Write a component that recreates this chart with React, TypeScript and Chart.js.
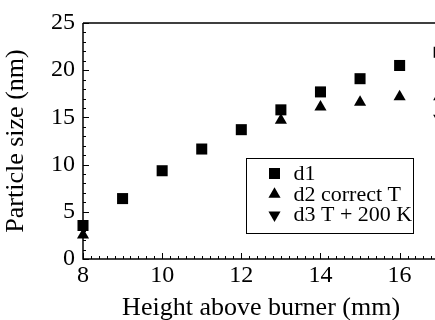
import React, { useEffect, useRef } from "react";
import { Chart, registerables } from "chart.js";

Chart.register(...registerables);

const heights = [8, 9, 10, 11, 12, 13, 14, 15, 16, 17];
const d1 = [3.55, 6.4, 9.35, 11.65, 13.7, 15.8, 17.7, 19.1, 20.5, 21.9];
const d2 = [2.55, null, null, null, null, 14.7, 16.1, 16.6, 17.2, 17.2];
const d3 = [null, null, null, null, null, null, null, null, null, 14.9];
const seriesLabels = ["d1", "d2 correct T", "d3 T + 200 K"];
const xTicks = [8, 10, 12, 14, 16];
const yTicks = [0, 5, 10, 15, 20, 25];

const X_MIN = 8;
const X_MAX = 17;
const Y_MIN = 0;
const Y_MAX = 25;
const FONT = "'Liberation Serif', 'Times New Roman', serif";

type Marker = "square" | "up" | "down";
const markers: Marker[] = ["square", "up", "down"];

function drawMarker(ctx: CanvasRenderingContext2D, kind: Marker, x: number, y: number) {
  ctx.beginPath();
  if (kind === "square") {
    const s = 5.5;
    ctx.rect(x - s, y - s, 2 * s, 2 * s);
  } else {
    const r = 7;
    const dir = kind === "up" ? 1 : -1;
    const w = r * Math.sqrt(3) / 2;
    ctx.moveTo(x, y - dir * r);
    ctx.lineTo(x + w, y + dir * r / 2);
    ctx.lineTo(x - w, y + dir * r / 2);
    ctx.closePath();
  }
  ctx.fill();
}

const frameAndTicks = {
  id: "frameAndTicks",
  beforeDatasetsDraw(chart: any) {
    const { ctx, chartArea: a, scales } = chart;
    const x = scales.x;
    const y = scales.y;
    ctx.save();
    ctx.strokeStyle = "#000";
    ctx.lineWidth = 1;
    ctx.beginPath();
    for (let i = 0; ; i++) {
      const v = X_MIN + i * 0.2;
      if (v > X_MAX + 1e-9) break;
      const px = Math.round(x.getPixelForValue(v)) + 0.5;
      const major = Math.abs(v / 2 - Math.round(v / 2)) < 1e-6;
      const len = major ? 6 : 3;
      ctx.moveTo(px, a.bottom);
      ctx.lineTo(px, a.bottom - len);
    }
    for (let v = Y_MIN; v <= Y_MAX; v += 1) {
      const py = Math.round(y.getPixelForValue(v)) + 0.5;
      const len = v % 5 === 0 ? 6 : 3;
      ctx.moveTo(a.left, py);
      ctx.lineTo(a.left + len, py);
    }
    ctx.stroke();
    ctx.lineWidth = 1.5;
    ctx.beginPath();
    ctx.moveTo(a.left, a.top);
    ctx.lineTo(a.right, a.top);
    ctx.moveTo(a.left, a.top);
    ctx.lineTo(a.left, a.bottom);
    ctx.lineTo(a.right, a.bottom);
    ctx.stroke();
    ctx.restore();
  },
};

const boxLegend = {
  id: "boxLegend",
  afterDraw(chart: any) {
    const { ctx } = chart;
    const left = 246.5;
    const top = 158.5;
    const w = 167;
    const h = 75;
    ctx.save();
    ctx.fillStyle = "#fff";
    ctx.fillRect(left, top, w, h);
    ctx.strokeStyle = "#000";
    ctx.lineWidth = 1;
    ctx.strokeRect(left, top, w, h);
    ctx.fillStyle = "#000";
    ctx.font = `22px ${FONT}`;
    ctx.textBaseline = "middle";
    ctx.textAlign = "left";
    chart.data.datasets.forEach((ds: any, i: number) => {
      const cy = top + 15 + i * 20.8;
      drawMarker(ctx, markers[i], left + 28, cy);
      ctx.fillText(ds.label, left + 47, cy + 0.5);
    });
    ctx.restore();
  },
};

export default function App() {
  const ref = useRef<HTMLCanvasElement | null>(null);
  useEffect(() => {
    if (!ref.current) return;
    const mk = (data: (number | null)[]) =>
      heights.map((h, i) => ({ x: h, y: data[i] })).filter((p) => p.y !== null);
    const chart = new Chart(ref.current, {
      type: "scatter",
      data: {
        datasets: [
          {
            label: seriesLabels[0],
            data: mk(d1) as any,
            pointStyle: "rect",
            pointRadius: 7.8,
            pointBorderWidth: 0,
            backgroundColor: "#000",
            borderColor: "#000",
            clip: false as any,
          },
          {
            label: seriesLabels[1],
            data: mk(d2) as any,
            pointStyle: "triangle",
            pointRadius: 7,
            pointBorderWidth: 0,
            backgroundColor: "#000",
            borderColor: "#000",
            clip: false as any,
          },
          {
            label: seriesLabels[2],
            data: mk(d3) as any,
            pointStyle: "triangle",
            pointRotation: 180,
            pointRadius: 7,
            pointBorderWidth: 0,
            backgroundColor: "#000",
            borderColor: "#000",
            clip: false as any,
          },
        ],
      },
      options: {
        responsive: false,
        animation: false,
        events: [],
        layout: { padding: { top: 23, left: 0, right: 0, bottom: 0 } },
        plugins: { legend: { display: false }, tooltip: { enabled: false } },
        scales: {
          x: {
            type: "linear",
            min: X_MIN,
            max: X_MAX,
            grid: { display: false, drawTicks: false },
            border: { display: false },
            afterBuildTicks: (s: any) => {
              s.ticks = xTicks.map((v) => ({ value: v }));
            },
            afterFit: (s: any) => {
              s.height = 61;
            },
            ticks: {
              stepSize: 2,
              padding: 2,
              color: "#000",
              font: { family: FONT, size: 24 },
              maxRotation: 0,
            },
            title: {
              display: true,
              text: "Height above burner (mm)",
              color: "#000",
              font: { family: FONT, size: 26, lineHeight: 0.88 },
              padding: { top: 0, bottom: 0 },
            },
          },
          y: {
            type: "linear",
            min: Y_MIN,
            max: Y_MAX,
            grid: { display: false, drawTicks: false },
            border: { display: false },
            afterBuildTicks: (s: any) => {
              s.ticks = yTicks.map((v) => ({ value: v }));
            },
            afterFit: (s: any) => {
              s.width = 83;
            },
            ticks: {
              stepSize: 5,
              padding: 8,
              color: "#000",
              font: { family: FONT, size: 24 },
            },
            title: {
              display: true,
              text: "Particle size (nm)",
              color: "#000",
              font: { family: FONT, size: 26, lineHeight: 1.2 },
              padding: { top: 1, bottom: 0 },
            },
          },
        },
      },
      plugins: [frameAndTicks, boxLegend],
    });
    return () => chart.destroy();
  }, []);
  return (
    <div
      style={{
        position: "absolute",
        left: 0,
        top: 0,
        width: 435,
        height: 320,
        overflow: "hidden",
        background: "#fff",
      }}
    >
      <canvas ref={ref} width={447} height={320} style={{ display: "block", width: 447, height: 320 }} />
    </div>
  );
}
